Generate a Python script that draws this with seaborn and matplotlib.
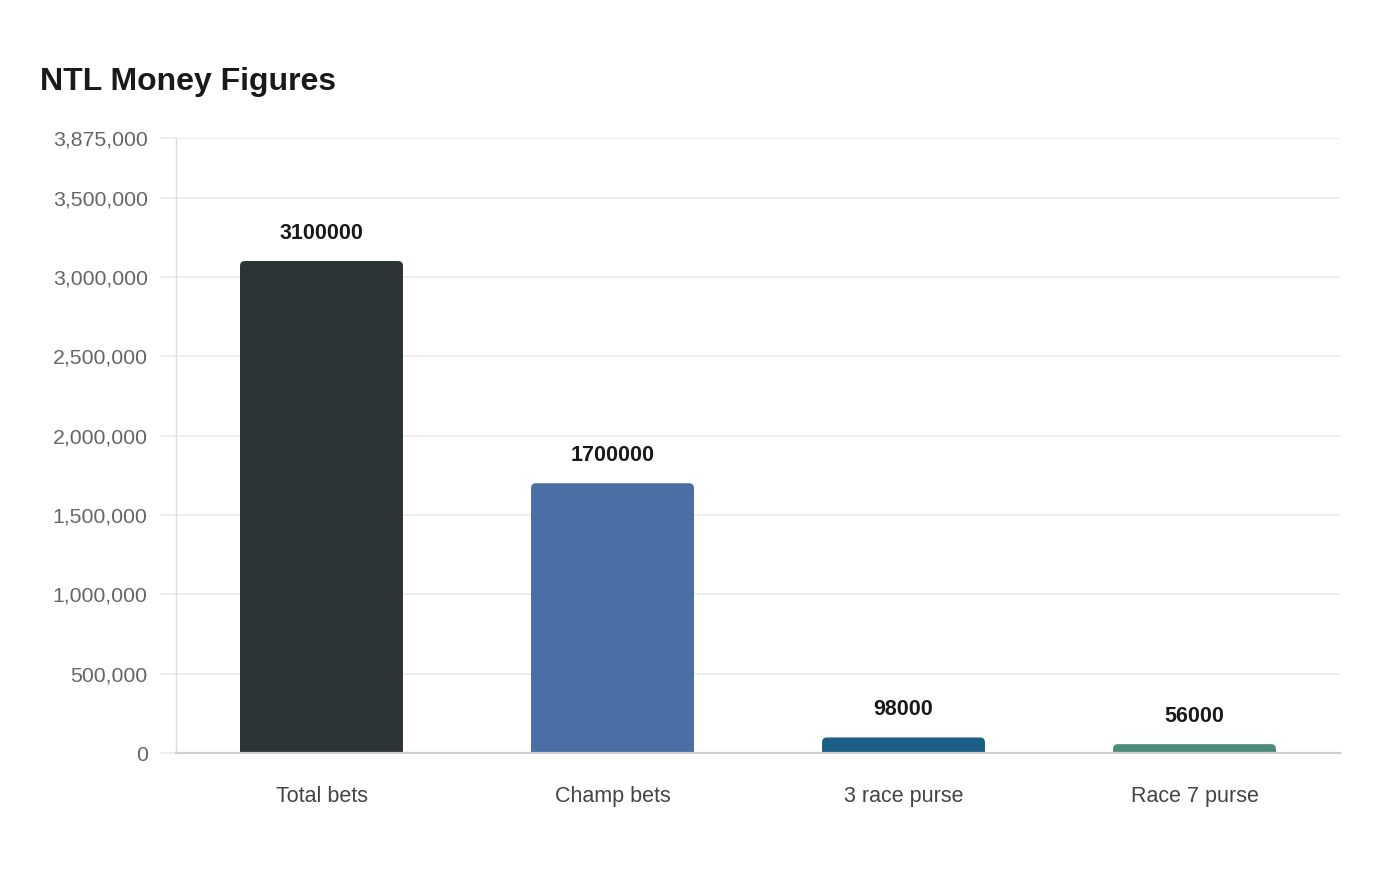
import matplotlib
matplotlib.use("Agg")
import matplotlib.pyplot as plt
import seaborn as sns
import pandas as pd
from matplotlib.patches import FancyBboxPatch
from matplotlib.ticker import FuncFormatter, FixedLocator
from matplotlib.transforms import IdentityTransform

categories = ["Total bets", "Champ bets", "3 race purse", "Race 7 purse"]
values = [3100000, 1700000, 98000, 56000]
colors = ["#2d3436", "#4a6fa5", "#1b5f87", "#4c8b7a"]
y_ticks = [0, 500000, 1000000, 1500000, 2000000, 2500000, 3000000, 3500000, 3875000]
title = "NTL Money Figures"

sns.set_theme(style="white")
plt.rcParams["font.family"] = ["Liberation Sans", "DejaVu Sans"]

df = pd.DataFrame({"category": categories, "value": values})

fig = plt.figure(figsize=(14, 8.8), dpi=100)
ax = fig.add_axes([176 / 1400, 1 - 753 / 880, (1340 - 176) / 1400, (753 - 138) / 880])

sns.barplot(data=df, x="category", y="value", hue="category", palette=colors,
            width=0.56, legend=False, ax=ax, saturation=1)

ax.set_xlim(-0.5, 3.5)
ax.set_ylim(0, 3875000)
ax.yaxis.set_major_locator(FixedLocator(y_ticks))
ax.yaxis.set_major_formatter(FuncFormatter(lambda v, p: f"{int(v):,}"))
ax.grid(axis="y", color="#ebebeb", linewidth=1.2, zorder=0)
ax.set_axisbelow(True)
ax.tick_params(axis="y", length=11.5, width=1.2, color="#ebebeb", pad=9,
               labelsize=15.3, labelcolor="#666666", left=True)
ax.tick_params(axis="x", length=0, pad=24, labelsize=15.5, labelcolor="#444444")
ax.set_xlabel("")
ax.set_ylabel("")
for s in ["top", "right"]:
    ax.spines[s].set_visible(False)
ax.spines["left"].set_color("#dddddd")
ax.spines["left"].set_linewidth(1)
ax.spines["left"].set_linestyle((0, (1, 1)))
ax.spines["bottom"].set_color("#d0d0d0")
ax.spines["bottom"].set_linewidth(1.6)
ax.spines["bottom"].set_zorder(5)

fig.text(40 / 1400, 1 - 82 / 880, title, fontsize=23, fontweight="bold",
         color="#1a1a1a", va="center", ha="left")

# Rounded-top bars: replace rectangles with rounded patches in pixel space
fig.canvas.draw()
r = 5
for p in list(ax.patches):
    x0, y0 = p.get_x(), p.get_y()
    w, h = p.get_width(), p.get_height()
    (px0, py0) = ax.transData.transform((x0, y0))
    (px1, py1) = ax.transData.transform((x0 + w, y0 + h))
    fc = p.get_facecolor()
    p.set_visible(False)
    rp = FancyBboxPatch((px0, py0 - r * 2), px1 - px0, (py1 - py0) + r * 2,
                        boxstyle=f"round,pad=0,rounding_size={r}",
                        transform=IdentityTransform(), facecolor=fc,
                        edgecolor="none", zorder=3)
    ax.add_artist(rp)
    rp.set_transform(IdentityTransform())
    rp.set_clip_box(ax.bbox)

for i, v in enumerate(values):
    ax.annotate(str(v), xy=(i, v), xytext=(0, 19.8), textcoords="offset points",
                ha="center", va="center", fontsize=15.5, fontweight="bold",
                color="#1a1a1a")

fig.savefig("out.png", dpi=100)
